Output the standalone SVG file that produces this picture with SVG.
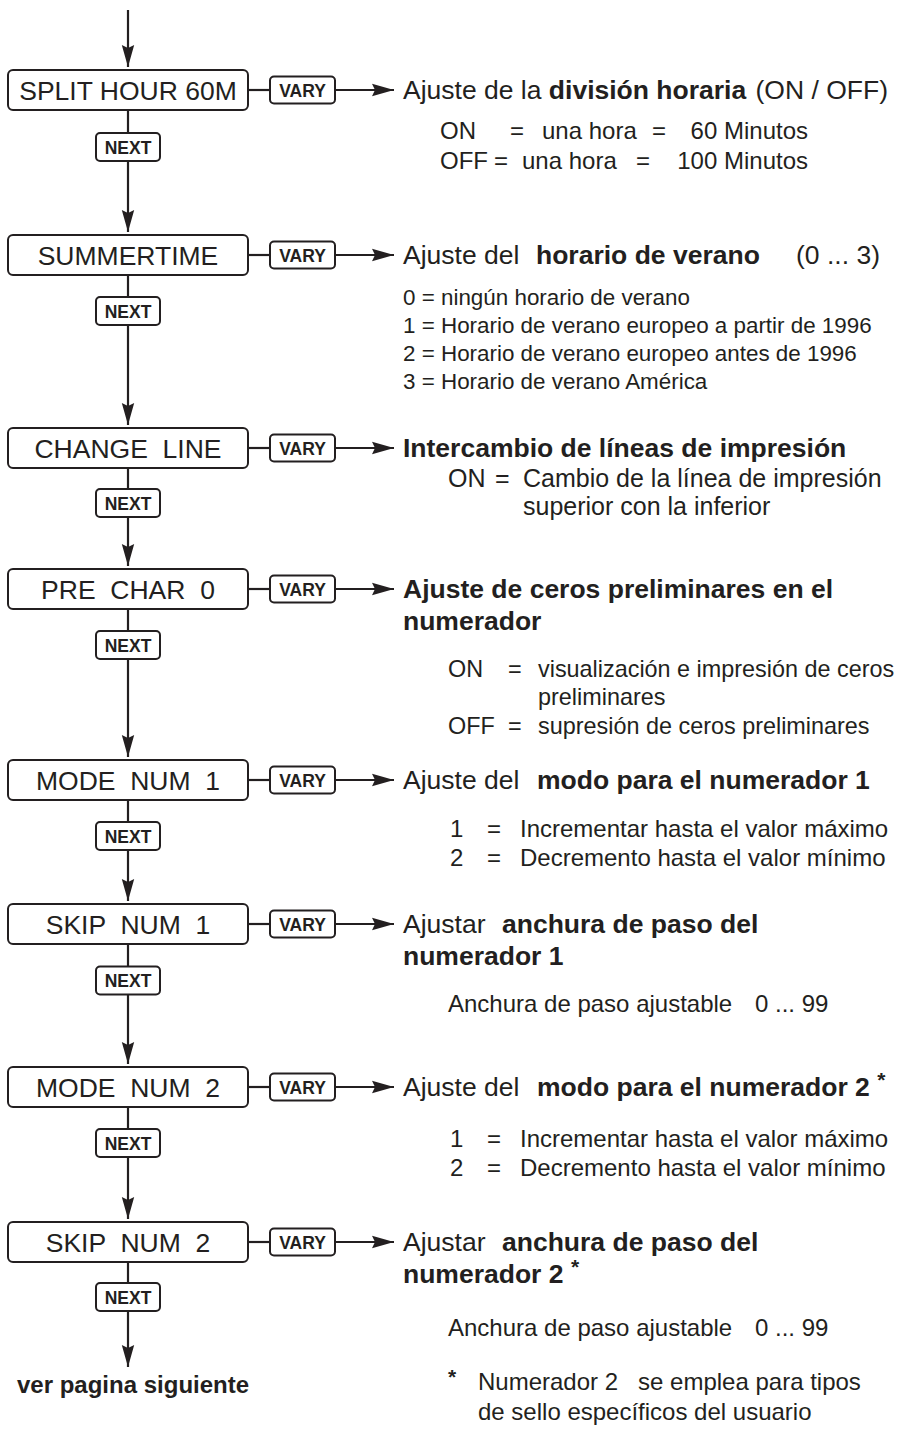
<svg xmlns="http://www.w3.org/2000/svg" width="902" height="1429" viewBox="0 0 902 1429">
<defs>
<marker id="ah" markerUnits="userSpaceOnUse" markerWidth="24" markerHeight="14" refX="22" refY="7" orient="auto">
<path d="M0,0.8 L22,7 L0,13.2 L3,7 z" fill="#231f20"/>
</marker>
<style>
.box{fill:#fff;stroke:#231f20;stroke-width:2}
.key{fill:#fff;stroke:#231f20;stroke-width:2}
.ln{stroke:#231f20;stroke-width:2.2;fill:none}
.arr{stroke:#231f20;stroke-width:2.2;fill:none;marker-end:url(#ah)}
text{font-family:"Liberation Sans",Arial,sans-serif;fill:#231f20;white-space:pre}
.bt{font-size:26.5px;text-anchor:middle}
.kt{font-size:17.5px;font-weight:bold;text-anchor:middle}
.h{font-size:26.5px}
.b{font-weight:bold}
.s{font-size:24px}
.s2{font-size:22.4px}
.s3{font-size:25px}
.s4{font-size:23.4px}
.sup{font-size:21px;font-weight:bold}
.foot{font-size:24px;font-weight:bold}
</style>
</defs>
<rect width="902" height="1429" fill="#fff"/>
<g id="connectors">
<line class="arr" x1="128" y1="10" x2="128" y2="67"/>
<line class="ln" x1="248" y1="90" x2="270" y2="90"/>
<line class="arr" x1="335" y1="90" x2="394" y2="90"/>
<line class="ln" x1="128" y1="110" x2="128" y2="133"/>
<line class="arr" x1="128" y1="161" x2="128" y2="232"/>
<line class="ln" x1="248" y1="255" x2="270" y2="255"/>
<line class="arr" x1="335" y1="255" x2="394" y2="255"/>
<line class="ln" x1="128" y1="275" x2="128" y2="297"/>
<line class="arr" x1="128" y1="325" x2="128" y2="425"/>
<line class="ln" x1="248" y1="448" x2="270" y2="448"/>
<line class="arr" x1="335" y1="448" x2="394" y2="448"/>
<line class="ln" x1="128" y1="468" x2="128" y2="489"/>
<line class="arr" x1="128" y1="517" x2="128" y2="566"/>
<line class="ln" x1="248" y1="589" x2="270" y2="589"/>
<line class="arr" x1="335" y1="589" x2="394" y2="589"/>
<line class="ln" x1="128" y1="609" x2="128" y2="631"/>
<line class="arr" x1="128" y1="659" x2="128" y2="757"/>
<line class="ln" x1="248" y1="780" x2="270" y2="780"/>
<line class="arr" x1="335" y1="780" x2="394" y2="780"/>
<line class="ln" x1="128" y1="800" x2="128" y2="822"/>
<line class="arr" x1="128" y1="850" x2="128" y2="901"/>
<line class="ln" x1="248" y1="924" x2="270" y2="924"/>
<line class="arr" x1="335" y1="924" x2="394" y2="924"/>
<line class="ln" x1="128" y1="944" x2="128" y2="967"/>
<line class="arr" x1="128" y1="994" x2="128" y2="1064"/>
<line class="ln" x1="248" y1="1087" x2="270" y2="1087"/>
<line class="arr" x1="335" y1="1087" x2="394" y2="1087"/>
<line class="ln" x1="128" y1="1107" x2="128" y2="1129"/>
<line class="arr" x1="128" y1="1157" x2="128" y2="1219"/>
<line class="ln" x1="248" y1="1242" x2="270" y2="1242"/>
<line class="arr" x1="335" y1="1242" x2="394" y2="1242"/>
<line class="ln" x1="128" y1="1262" x2="128" y2="1283"/>
<line class="arr" x1="128" y1="1311" x2="128" y2="1367"/>
</g>

<g id="n1">
<rect class="box" x="8" y="70" width="240" height="40" rx="5"/>
<text class="bt" x="128" y="99.5">SPLIT HOUR 60M</text>
</g>
<g id="n1-vary"><rect class="key" x="270" y="76.5" width="65" height="27" rx="4"/><text class="kt" x="302.5" y="96.5">VARY</text></g>
<g id="n1-next"><rect class="key" x="96" y="133" width="64" height="28" rx="4"/><text class="kt" x="128" y="153.5">NEXT</text></g>

<g id="n2">
<rect class="box" x="8" y="235" width="240" height="40" rx="5"/>
<text class="bt" x="128" y="264.5">SUMMERTIME</text>
</g>
<g id="n2-vary"><rect class="key" x="270" y="241.5" width="65" height="27" rx="4"/><text class="kt" x="302.5" y="261.5">VARY</text></g>
<g id="n2-next"><rect class="key" x="96" y="297" width="64" height="28" rx="4"/><text class="kt" x="128" y="317.5">NEXT</text></g>

<g id="n3">
<rect class="box" x="8" y="428" width="240" height="40" rx="5"/>
<text class="bt" x="128" y="457.5">CHANGE  LINE</text>
</g>
<g id="n3-vary"><rect class="key" x="270" y="434.5" width="65" height="27" rx="4"/><text class="kt" x="302.5" y="454.5">VARY</text></g>
<g id="n3-next"><rect class="key" x="96" y="489" width="64" height="28" rx="4"/><text class="kt" x="128" y="509.5">NEXT</text></g>

<g id="n4">
<rect class="box" x="8" y="569" width="240" height="40" rx="5"/>
<text class="bt" x="128" y="598.5">PRE  CHAR  0</text>
</g>
<g id="n4-vary"><rect class="key" x="270" y="575.5" width="65" height="27" rx="4"/><text class="kt" x="302.5" y="595.5">VARY</text></g>
<g id="n4-next"><rect class="key" x="96" y="631" width="64" height="28" rx="4"/><text class="kt" x="128" y="651.5">NEXT</text></g>

<g id="n5">
<rect class="box" x="8" y="760" width="240" height="40" rx="5"/>
<text class="bt" x="128" y="789.5">MODE  NUM  1</text>
</g>
<g id="n5-vary"><rect class="key" x="270" y="766.5" width="65" height="27" rx="4"/><text class="kt" x="302.5" y="786.5">VARY</text></g>
<g id="n5-next"><rect class="key" x="96" y="822" width="64" height="28" rx="4"/><text class="kt" x="128" y="842.5">NEXT</text></g>

<g id="n6">
<rect class="box" x="8" y="904" width="240" height="40" rx="5"/>
<text class="bt" x="128" y="933.5">SKIP  NUM  1</text>
</g>
<g id="n6-vary"><rect class="key" x="270" y="910.5" width="65" height="27" rx="4"/><text class="kt" x="302.5" y="930.5">VARY</text></g>
<g id="n6-next"><rect class="key" x="96" y="966.5" width="64" height="28" rx="4"/><text class="kt" x="128" y="987">NEXT</text></g>

<g id="n7">
<rect class="box" x="8" y="1067" width="240" height="40" rx="5"/>
<text class="bt" x="128" y="1096.5">MODE  NUM  2</text>
</g>
<g id="n7-vary"><rect class="key" x="270" y="1073.5" width="65" height="27" rx="4"/><text class="kt" x="302.5" y="1093.5">VARY</text></g>
<g id="n7-next"><rect class="key" x="96" y="1129" width="64" height="28" rx="4"/><text class="kt" x="128" y="1149.5">NEXT</text></g>

<g id="n8">
<rect class="box" x="8" y="1222" width="240" height="40" rx="5"/>
<text class="bt" x="128" y="1251.5">SKIP  NUM  2</text>
</g>
<g id="n8-vary"><rect class="key" x="270" y="1228.5" width="65" height="27" rx="4"/><text class="kt" x="302.5" y="1248.5">VARY</text></g>
<g id="n8-next"><rect class="key" x="96" y="1283" width="64" height="28" rx="4"/><text class="kt" x="128" y="1303.5">NEXT</text></g>

<g id="next-page"><text class="foot" x="17" y="1393">ver pagina siguiente</text></g>

<g id="d1">
<text class="h" x="403" y="99">Ajuste de la <tspan class="b">división horaria</tspan><tspan x="888" text-anchor="end">(ON / OFF)</tspan></text>
<text class="s" y="139"><tspan x="440">ON</tspan><tspan x="510">=</tspan><tspan x="542">una hora</tspan><tspan x="652">=</tspan><tspan x="808" text-anchor="end">60 Minutos</tspan></text>
<text class="s" y="169"><tspan x="440">OFF</tspan><tspan x="494">=</tspan><tspan x="522">una hora</tspan><tspan x="636">=</tspan><tspan x="808" text-anchor="end">100 Minutos</tspan></text>
</g>

<g id="d2">
<text class="h" y="264"><tspan x="403">Ajuste del</tspan><tspan x="536" class="b">horario de verano</tspan><tspan x="880" text-anchor="end">(0 ... 3)</tspan></text>
<text class="s2" x="403" y="305">0 = ningún horario de verano</text>
<text class="s2" x="403" y="333">1 = Horario de verano europeo a partir de 1996</text>
<text class="s2" x="403" y="361">2 = Horario de verano europeo antes de 1996</text>
<text class="s2" x="403" y="389">3 = Horario de verano América</text>
</g>

<g id="d3">
<text class="h b" x="403" y="457">Intercambio de líneas de impresión</text>
<text class="s3" y="487"><tspan x="448">ON</tspan><tspan x="495">=</tspan><tspan x="523">Cambio de la línea de impresión</tspan></text>
<text class="s3" x="523" y="515">superior con la inferior</text>
</g>

<g id="d4">
<text class="h b" x="403" y="598">Ajuste de ceros preliminares en el</text>
<text class="h b" x="403" y="630">numerador</text>
<text class="s4" y="677"><tspan x="448">ON</tspan><tspan x="508">=</tspan><tspan x="538">visualización e impresión de ceros</tspan></text>
<text class="s4" x="538" y="705">preliminares</text>
<text class="s4" y="734"><tspan x="448">OFF</tspan><tspan x="508">=</tspan><tspan x="538">supresión de ceros preliminares</tspan></text>
</g>

<g id="d5">
<text class="h" y="789"><tspan x="403">Ajuste del</tspan><tspan x="537" class="b">modo para el numerador 1</tspan></text>
<text class="s" y="837"><tspan x="450">1</tspan><tspan x="487">=</tspan><tspan x="520">Incrementar hasta el valor máximo</tspan></text>
<text class="s" y="866"><tspan x="450">2</tspan><tspan x="487">=</tspan><tspan x="520">Decremento hasta el valor mínimo</tspan></text>
</g>

<g id="d6">
<text class="h" y="933"><tspan x="403">Ajustar</tspan><tspan x="502" class="b">anchura de paso del</tspan></text>
<text class="h b" x="403" y="965">numerador 1</text>
<text class="s" y="1012"><tspan x="448">Anchura de paso ajustable</tspan><tspan x="755">0 ... 99</tspan></text>
</g>

<g id="d7">
<text class="h" y="1096"><tspan x="403">Ajuste del</tspan><tspan x="537" class="b">modo para el numerador 2 </tspan><tspan class="sup" dy="-9">*</tspan></text>
<text class="s" y="1147"><tspan x="450">1</tspan><tspan x="487">=</tspan><tspan x="520">Incrementar hasta el valor máximo</tspan></text>
<text class="s" y="1176"><tspan x="450">2</tspan><tspan x="487">=</tspan><tspan x="520">Decremento hasta el valor mínimo</tspan></text>
</g>

<g id="d8">
<text class="h" y="1251"><tspan x="403">Ajustar</tspan><tspan x="502" class="b">anchura de paso del</tspan></text>
<text class="h b" x="403" y="1283">numerador 2 <tspan class="sup" dy="-9">*</tspan></text>
<text class="s" y="1336"><tspan x="448">Anchura de paso ajustable</tspan><tspan x="755">0 ... 99</tspan></text>
<text class="s" y="1390"><tspan x="448" class="sup" dy="-6">*</tspan><tspan x="478" dy="6">Numerador 2   se emplea para tipos</tspan></text>
<text class="s" x="478" y="1420">de sello específicos del usuario</text>
</g>
</svg>
